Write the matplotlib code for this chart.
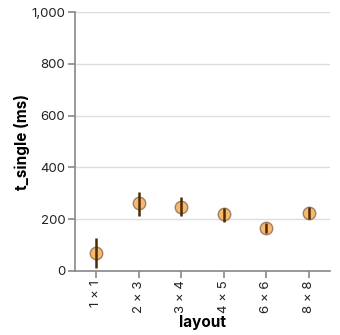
import matplotlib
matplotlib.use("Agg")
import matplotlib.pyplot as plt
import numpy as np

plt.rcParams['font.family'] = ['Inter', 'DejaVu Sans']

# values
layouts = ["1 × 1", "2 × 3", "3 × 4", "4 × 5", "6 × 6", "8 × 8"]
t_mean = [70, 261, 248, 218, 164, 224]
t_low = [9, 213, 213, 190, 145, 199]
t_high = [125, 303, 284, 241, 184, 245]

fig = plt.figure(figsize=(3.4, 3.35), dpi=100)
ax = fig.add_axes([75 / 340, (335 - 270.7) / 335, 255 / 340, 258.4 / 335])

x = np.arange(len(layouts))
ax.scatter(x, t_mean, s=80, facecolor="#f8b96f", edgecolor="#a08060", linewidth=1, zorder=3)
ax.vlines(x, t_low, t_high, color="#4a2c05", linewidth=1.8, zorder=4)

ax.set_xlim(-0.5, len(layouts) - 0.5)
ax.set_ylim(0, 1000)
ax.set_yticks([0, 200, 400, 600, 800, 1000])
ax.set_yticklabels(["0", "200", "400", "600", "800", "1,000"])
ax.set_xticks(x)
ax.set_xticklabels(layouts, rotation=90, fontsize=10)

ax.grid(axis="y", color="#dddddd", linewidth=1)
ax.set_axisbelow(True)
for side in ["top", "right"]:
    ax.spines[side].set_visible(False)
for side in ["left", "bottom"]:
    ax.spines[side].set_color("#888888")
    ax.spines[side].set_linewidth(1.2)
ax.tick_params(colors="#888888", length=5, width=1.2, labelcolor="#222222", labelsize=9.5, pad=2)

ax.set_xlabel("layout", fontsize=11, fontweight="bold", labelpad=1)
ax.set_ylabel("t_single (ms)", fontsize=11, fontweight="bold", labelpad=1)

fig.savefig("out.png", dpi=100)
